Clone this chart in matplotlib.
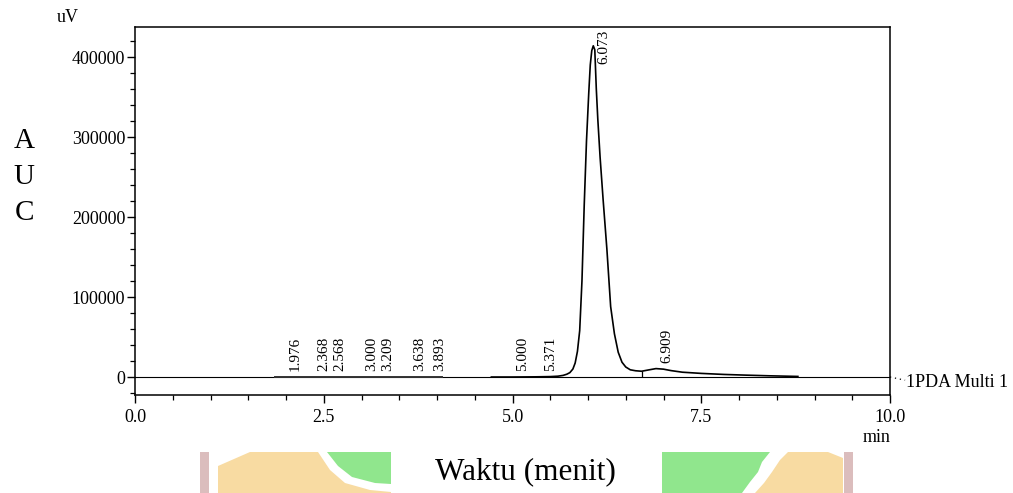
import matplotlib
matplotlib.use("Agg")
import matplotlib.pyplot as plt
import numpy as np
from matplotlib import transforms
from matplotlib.patches import Polygon

plt.rcParams['font.family'] = ['Liberation Serif', 'DejaVu Serif']

# Detector baseline recorded before the elution window (min, uV)
base_time = [1.85, 2.50, 3.20, 4.07]
base_signal = [0, 0, 0, 0]

# Main chromatogram trace (min, uV)
trace_time = [4.72, 5.00, 5.30, 5.50, 5.60, 5.67, 5.72, 5.76, 5.80, 5.83,
              5.86, 5.89, 5.92, 5.95, 5.98, 6.01, 6.03, 6.05, 6.07, 6.09,
              6.11, 6.13, 6.16, 6.20, 6.25, 6.30, 6.35, 6.40, 6.45, 6.50,
              6.56, 6.63, 6.71, 6.80, 6.90, 7.00, 7.10, 7.25, 7.50, 7.80,
              8.10, 8.40, 8.78]
trace_signal = [0, 0, 200, 500, 1000, 2000, 3500, 5500, 10000, 17500,
                32000, 58000, 120000, 215000, 295000, 355000, 390000, 408000, 414000, 409000,
                360000, 322000, 275000, 222000, 160000, 88000, 54000, 31000, 18500, 12500,
                9000, 7800, 7200, 8800, 10500, 9800, 8000, 6000, 4500, 3200,
                2300, 1500, 700]

# Integrated peaks: retention times and their printed labels
peak_times = [1.976, 2.368, 2.568, 3.000, 3.209, 3.638, 3.893, 5.000, 5.371, 6.073, 6.909]
peak_labels = ["1.976", "2.368", "2.568", "3.000", "3.209", "3.638", "3.893",
               "5.000", "5.371", "6.073", "6.909"]
valley_time = 6.71

x_ticks = [0.0, 2.5, 5.0, 7.5, 10.0]
x_tick_labels = ["0.0", "2.5", "5.0", "7.5", "10.0"]
y_ticks = [0, 100000, 200000, 300000, 400000]
y_tick_labels = ["0", "100000", "200000", "300000", "400000"]

W, H = 1013, 493
fig = plt.figure(figsize=(W / 100, H / 100), dpi=100)


def px(x, y):
    return (x / W, 1 - y / H)


# faint logo shapes along the bottom edge
orange = "#F8DBA2"
green = "#90E68D"
pink = "#DBBDBD"
shapes = [
    (pink, [(200, 452), (209, 452), (209, 493), (200, 493)]),
    (orange, [(218, 466), (250, 452), (318, 452), (330, 470), (345, 483),
              (370, 490), (391, 492), (391, 493), (218, 493)]),
    (green, [(327, 452), (391, 452), (391, 484), (375, 483), (352, 477),
             (338, 466)]),
    (green, [(662, 452), (770, 452), (762, 462), (758, 472), (750, 482),
             (742, 493), (662, 493)]),
    (orange, [(788, 452), (828, 452), (843, 458), (843, 493), (755, 493),
              (764, 483), (772, 472), (780, 460)]),
    (pink, [(844, 452), (853, 452), (853, 493), (844, 493)]),
]
for color, pts in shapes:
    fig.add_artist(Polygon([px(*p) for p in pts], closed=True, transform=fig.transFigure,
                           facecolor=color, edgecolor="none", zorder=0))

ax = fig.add_axes([135 / W, 1 - 395 / H, (890 - 135) / W, (395 - 27) / H])
ax.set_xlim(0, 10)
ax.set_ylim(-22500, 437500)
ax.patch.set_alpha(0)

ax.axhline(0, color="black", lw=0.8, zorder=2)
ax.plot(base_time, base_signal, color="#333333", lw=1.4, zorder=3)
ax.plot(trace_time, trace_signal, color="black", lw=1.2, zorder=3)
valley_val = np.interp(valley_time, trace_time, trace_signal)
ax.vlines(valley_time, 0, valley_val, color="black", lw=0.9, zorder=3)

ymax = ax.get_ylim()[1]
label_tf = transforms.offset_copy(ax.transData, fig=fig, x=10.5, y=0, units="dots")
for rt, lab in zip(peak_times, peak_labels):
    if trace_time[0] <= rt <= trace_time[-1]:
        level = np.interp(rt, trace_time, trace_signal)
    else:
        level = 0
    if level + 50000 > ymax:
        ax.text(rt, ymax - 3000, lab, rotation=90, ha="center", va="top",
                fontsize=11, transform=label_tf)
    else:
        ax.text(rt, level + 7000, lab, rotation=90, ha="center", va="bottom",
                fontsize=11, transform=label_tf)

for s in ax.spines.values():
    s.set_linewidth(1.1)
ax.set_xticks(x_ticks)
ax.set_xticklabels(x_tick_labels)
ax.set_xticks(np.arange(0, 10.01, 0.5), minor=True)
ax.set_yticks(y_ticks)
ax.set_yticklabels(y_tick_labels)
ax.set_yticks(np.arange(-20000, 430001, 20000), minor=True)
ax.tick_params(axis="both", which="major", direction="out", length=6, width=1.0,
               labelsize=13)
ax.tick_params(axis="both", which="minor", direction="out", length=3.5, width=0.9)
ax.tick_params(axis="y", which="major", pad=1)
ax.tick_params(axis="x", which="major", pad=4)

# channel label at the right end of the trace
ax.plot([10.0, 10.2], [0, -4000], color="black", lw=0.9, ls=(0, (1, 3)), clip_on=False)
ax.text(10.21, -7000, "1PDA Multi 1", fontsize=13, ha="left", va="center", clip_on=False)

fig.text(*px(68, 17), "uV", fontsize=13, ha="center", va="center")
fig.text(*px(877, 437), "min", fontsize=13, ha="center", va="center")
for letter, yy in zip(["A", "U", "C"], [141, 177, 213]):
    fig.text(*px(24, yy), letter, fontsize=21, ha="center", va="center")
fig.text(*px(525, 472), "Waktu (menit)", fontsize=22.5, ha="center", va="center")

fig.savefig("out.png", dpi=100)
